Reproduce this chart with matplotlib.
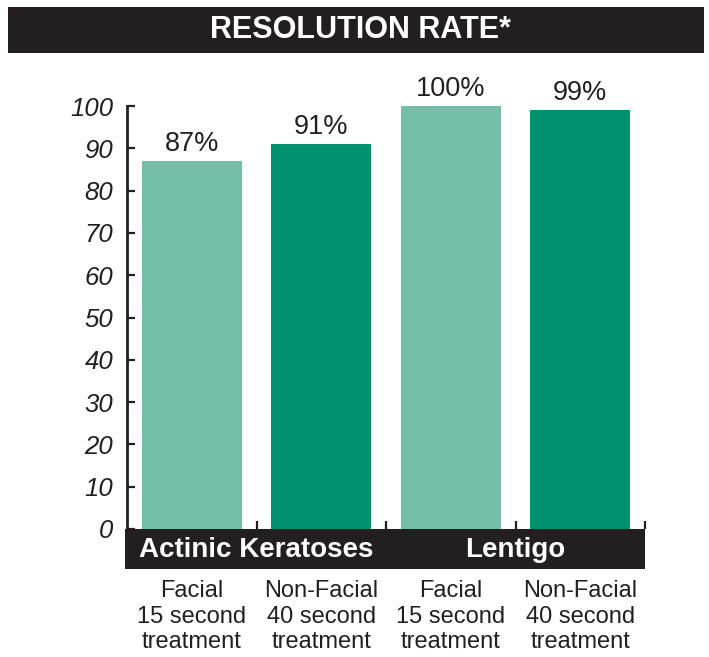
import matplotlib.pyplot as plt
from matplotlib.patches import Rectangle

# data
categories = ["Facial\n15 second\ntreatment", "Non-Facial\n40 second\ntreatment",
              "Facial\n15 second\ntreatment", "Non-Facial\n40 second\ntreatment"]
values = [87, 91, 100, 99]
value_labels = ["87%", "91%", "100%", "99%"]
groups = ["Actinic Keratoses", "Lentigo"]
group_pos = [0.5, 2.5]
yticks = [0, 10, 20, 30, 40, 50, 60, 70, 80, 90, 100]

light = "#74BDA9"
dark = "#00916E"
ink = "#231F20"
colors = [light, dark, light, dark]

plt.rcParams['font.family'] = ['Liberation Sans', 'DejaVu Sans']

W, H = 709, 657
fig = plt.figure(figsize=(W / 100, H / 100), dpi=100)

# axes box in pixels: left 127, right 645, top(100) 106, bottom(0) 529
ax = fig.add_axes([127 / W, 1 - 529 / H, (645 - 127) / W, (529 - 106) / H])

x = list(range(len(values)))
ax.bar(x, values, width=0.77, color=colors)
ax.set_xlim(-0.5, 3.5)
ax.set_ylim(0, 100)

for xi, v, lab in zip(x, values, value_labels):
    ax.annotate(lab, (xi, v), xytext=(0, 3), textcoords="offset points",
                ha="center", va="bottom", fontsize=19.5, color=ink,
                annotation_clip=False)

for s in ["top", "right", "bottom"]:
    ax.spines[s].set_visible(False)
ax.spines["left"].set_linewidth(2)
ax.spines["left"].set_color(ink)

ax.set_yticks(yticks)
ax.set_yticklabels([str(t) for t in yticks], fontsize=18.5, style="italic", color=ink)
ax.tick_params(axis="y", direction="in", length=6, width=1.6, color=ink, pad=10)

# x: category labels at bar centres, small upward ticks between bars
ax.set_xticks(x)
ax.set_xticklabels(categories, fontsize=17, color=ink, linespacing=1.2)
ax.tick_params(axis="x", which="major", length=0, pad=37)
ax.set_xticks([0.5, 1.5, 2.5, 3.5], minor=True)
ax.tick_params(axis="x", which="minor", direction="in", length=6, width=1.6,
               color=ink, bottom=True)

# black band with group names under the axis
fig.patches.append(Rectangle((125 / W, 1 - 569 / H), (645 - 125) / W, 40 / H,
                             transform=fig.transFigure, facecolor=ink,
                             edgecolor="none", zorder=0))
for gx, g in zip(group_pos, groups):
    px = ax.transData.transform((gx, 0))[0]
    fig.text(px / W, 1 - 550 / H, g, ha="center", va="center",
             fontsize=20, fontweight="bold", color="white", zorder=5)

# title bar
fig.patches.append(Rectangle((8 / W, 1 - 53 / H), (704 - 8) / W, 46 / H,
                             transform=fig.transFigure, facecolor=ink,
                             edgecolor="none", zorder=0))
fig.text(360 / W, 1 - 30 / H, "RESOLUTION RATE*", ha="center", va="center",
         fontsize=22, fontweight="bold", color="white", zorder=5)

fig.savefig("out.png", dpi=100)
